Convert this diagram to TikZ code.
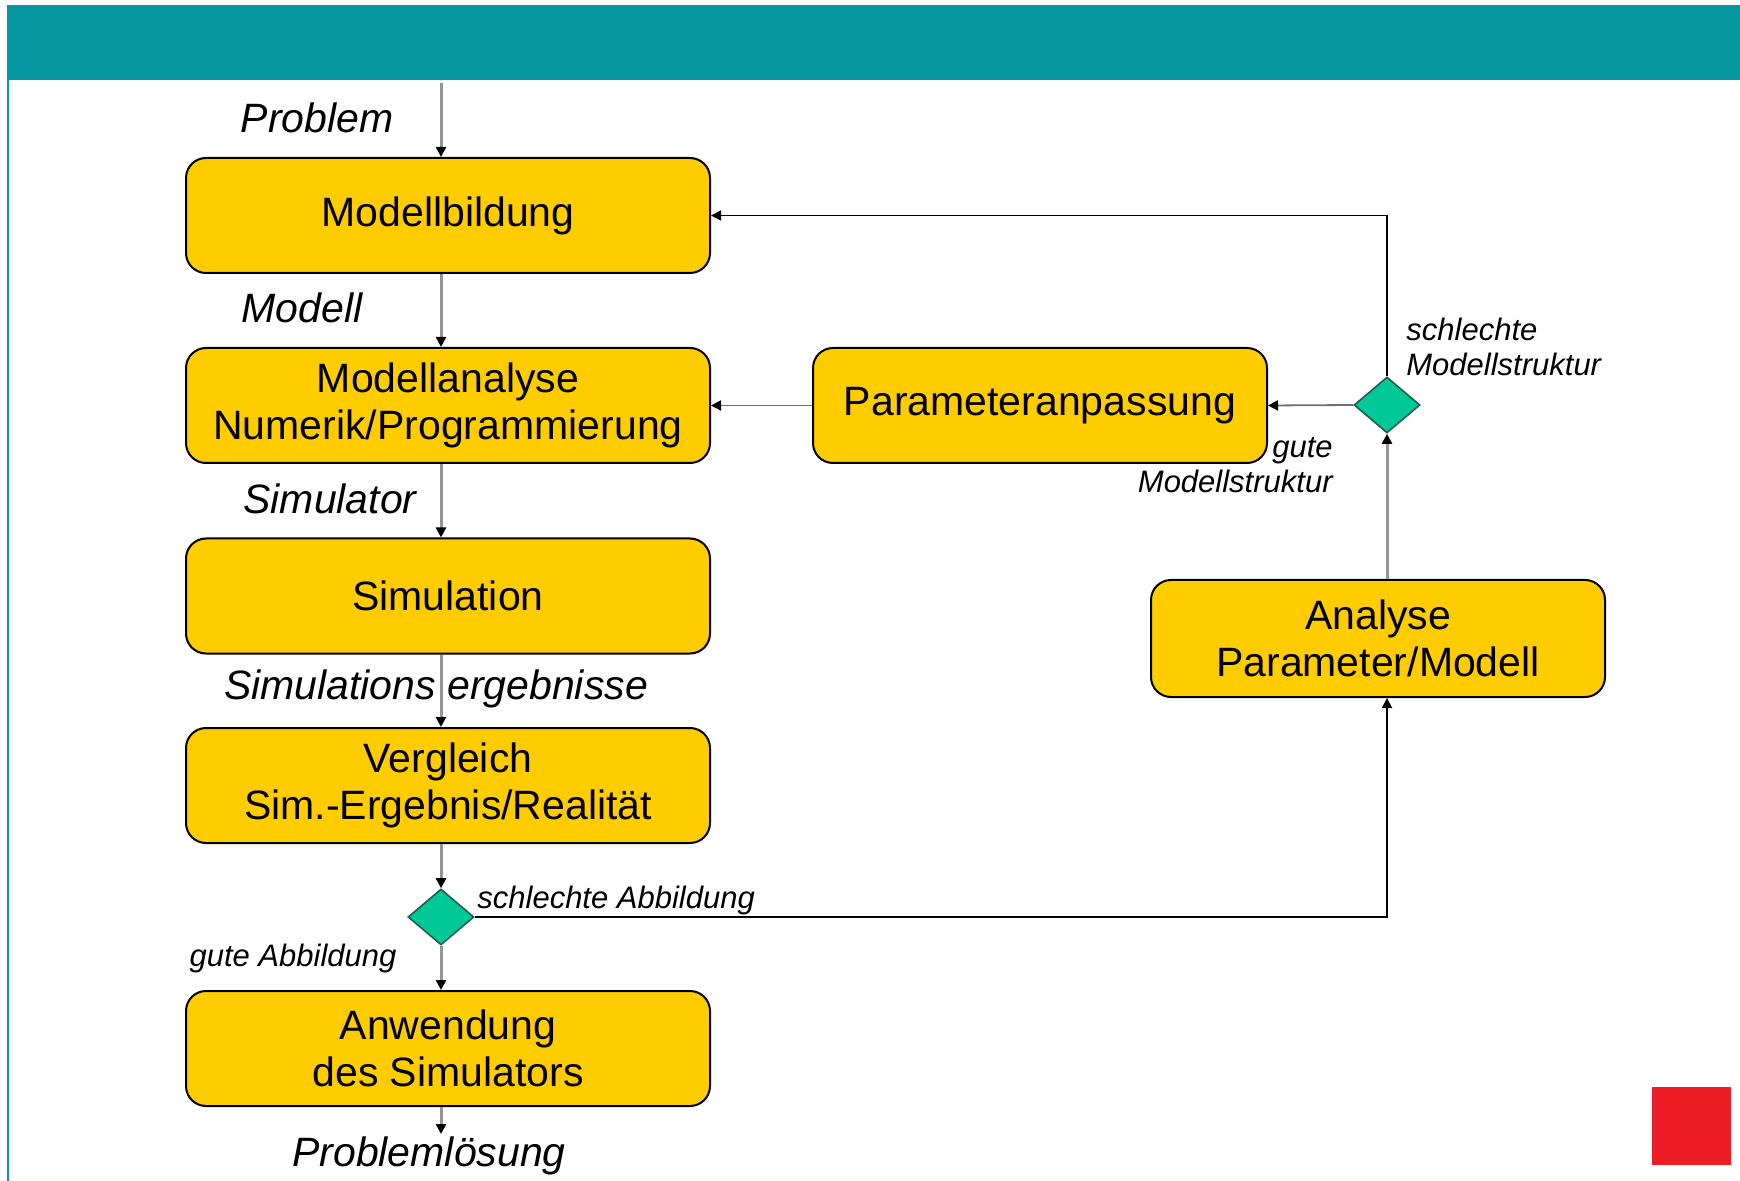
\documentclass[tikz,border=0pt]{standalone}
\usepackage{fontspec}
\setmainfont{Liberation Sans}
\usetikzlibrary{shapes.geometric,arrows.meta}
\definecolor{tealbar}{HTML}{0497A0}
\definecolor{boxy}{HTML}{FFCC00}
\definecolor{dgreen}{HTML}{00C896}
\definecolor{dborder}{HTML}{1E5E4E}
\definecolor{redsq}{HTML}{EE1C24}
\definecolor{lgray}{HTML}{959595}
\definecolor{mgray}{HTML}{707070}
\begin{document}
\begin{tikzpicture}[x=0.5pt,y=-0.5pt,
  proc/.style={draw=black, line width=1pt, fill=boxy, rounded corners=10pt,
    minimum width=262pt, minimum height=57.5pt, align=center,
    font=\fontsize{20.5}{23.5}\selectfont, inner sep=0pt},
  wproc/.style={proc, minimum width=227pt},
  dec/.style={diamond, draw=dborder, fill=dgreen, line width=0.8pt,
    minimum width=33pt, minimum height=28pt, inner sep=0pt},
  tip/.style={-{Triangle[length=5pt,width=5pt,color=black]}},
  gl/.style={draw=lgray, line width=1.5pt, tip},
  hl/.style={draw=mgray, line width=0.9pt, tip},
  bl/.style={draw=black, line width=0.9pt, tip},
  lab/.style={font=\itshape\fontsize{20.5}{24}\selectfont, inner sep=0pt},
  slab/.style={font=\itshape\fontsize{15.5}{17.5}\selectfont, inner sep=0pt}]
\useasboundingbox (0,0) rectangle (1740,1181);
\fill[white] (0,0) rectangle (1740,1181);
% header
\fill[tealbar] (7,5) rectangle (1740,80);
\draw[tealbar, line width=1.2pt] (8,5) -- (8,1181);
\fill[redsq] (1652,1087) rectangle (1731,1165);

% nodes
\coordinate (vx) at (441,0);
\coordinate (start) at (441,83);
\coordinate (finish) at (441,1134);
\node[proc] (mb) at (448,215.5) {Modellbildung};
\node[proc] (ma) at (448,405.5) {Modellanalyse\\Numerik/Programmierung};
\node[proc] (sim) at (448,596) {Simulation};
\node[proc] (vg) at (448,785.5) {Vergleich\\Sim.-Ergebnis/Realität};
\node[proc] (an2) at (448,1048.5) {Anwendung\\des Simulators};
\node[wproc] (pa) at (1040,405.5) {Parameteranpassung};
\node[wproc, minimum height=58.5pt] (an) at (1378,638.5) {Analyse\\Parameter/Modell};
\node[dec] (d1) at (441,917) {};
\node[dec] (d2) at (1387,405) {};

% labels
\node[lab] (lproblem) at (317,118) {Problem};
\node[lab] (lmodell) at (302,308) {Modell};
\node[lab] (lsimulator) at (330,499) {Simulator};
\node[lab] (lsimerg) at (436,689) {Simulations ergebnisse};
\node[slab, anchor=west] (lschlA) at (477,900) {schlechte Abbildung};
\node[slab] (lguteA) at (293,958) {gute Abbildung};
\node[lab] (lloesung) at (429,1156) {Problemlösung};
\node[slab, anchor=west, align=left] (lschlM) at (1406,347) {schlechte\\Modellstruktur};
\node[slab, anchor=east, align=right] (lguteM) at (1333,465) {gute\\Modellstruktur};

% connectors
\draw[gl] (start) -- (mb.north -| vx);
\draw[gl] (mb.south -| vx) -- (ma.north -| vx);
\draw[gl] (ma.south -| vx) -- (sim.north -| vx);
\draw[gl] (sim.south -| vx) -- (vg.north -| vx);
\draw[gl] (vg.south -| vx) -- (d1.north);
\draw[gl] (d1.south) -- (an2.north -| vx);
\draw[gl] (an2.south -| vx) -- (finish);
\draw[bl] (d1.east) -- (d1.east -| d2) -- (an.south -| d2);
\draw[gl] (an.north -| d2) -- (d2.south);
\draw[hl] (d2.west) -- (pa.east);
\draw[hl] (pa.west) -- (ma.east);
\draw[bl] (d2.north) -- (d2 |- mb.east) -- (mb.east);
\end{tikzpicture}
\end{document}
